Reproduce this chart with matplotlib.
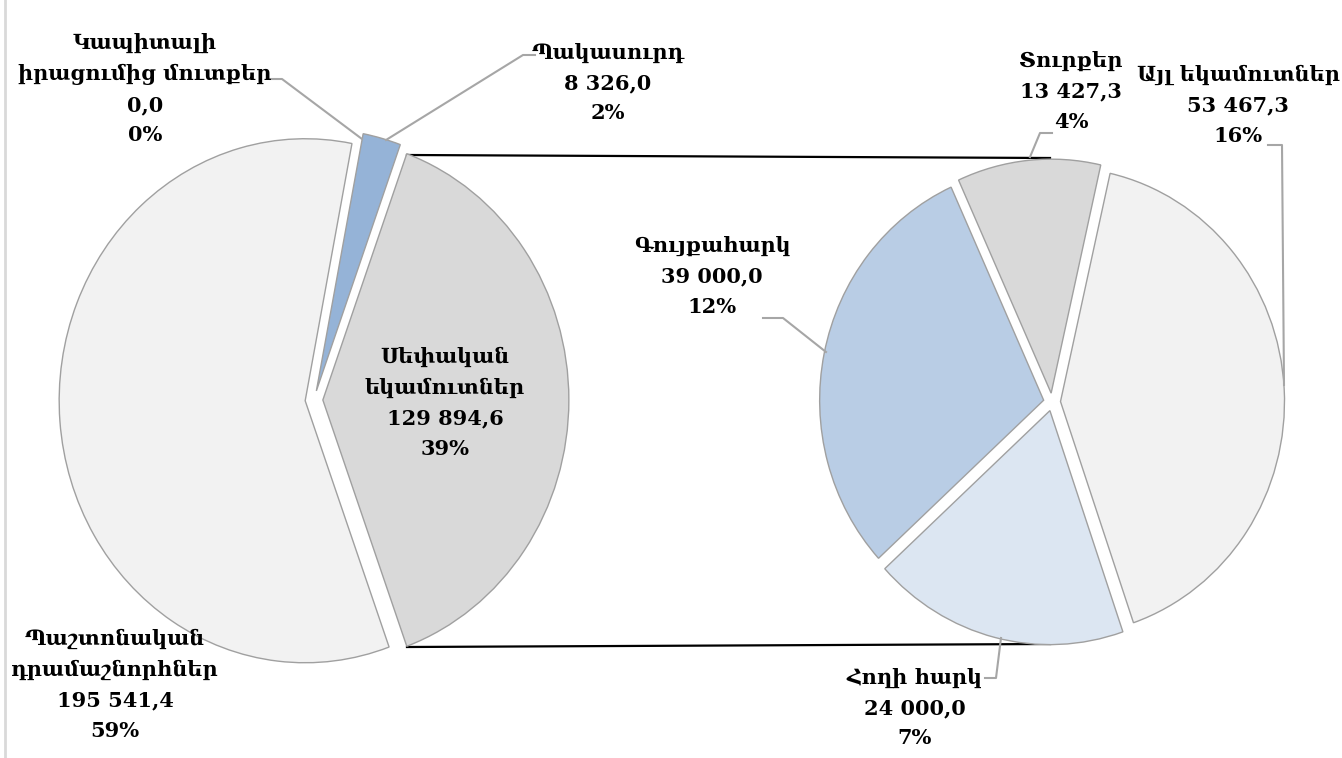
import matplotlib
matplotlib.use("Agg")
import matplotlib.pyplot as plt

# ---------------- data ----------------
main_labels = ["Սեփական\nեկամուտներ", "Պակասուրդ", "Կապիտալի\nիրացումից մուտքեր", "Պաշտոնական\nդրամաշնորհներ"]
main_values = [129894.6, 8326.0, 0.0, 195541.4]
main_colors = ["#d9d9d9", "#95b3d7", "#95b3d7", "#f2f2f2"]

sub_labels = ["Տուրքեր", "Գույքահարկ", "Հողի հարկ", "Այլ եկամուտներ"]
sub_values = [13427.3, 39000.0, 24000.0, 53467.3]
sub_colors = ["#d9d9d9", "#b9cde5", "#dce6f2", "#f2f2f2"]

total = sum(main_values)

plt.rcParams['font.family'] = ['DejaVu Serif', 'DejaVu Sans']

W, H = 1342, 758
fig = plt.figure(figsize=(W / 100, H / 100), dpi=100)

# background overlay (connector lines)
bg = fig.add_axes([0, 0, 1, 1], zorder=0)
bg.set_xlim(0, W); bg.set_ylim(H, 0); bg.axis('off')

def pie_axes(cx, cy, rx, ry, lim=1.2):
    w = 2 * lim * rx
    h = 2 * lim * ry
    ax = fig.add_axes([(cx - w / 2) / W, (H - cy - h / 2) / H, w / W, h / H], zorder=2)
    ax.patch.set_visible(False)
    return ax, lim

edge = dict(edgecolor="#a0a0a0", linewidth=1.0)

# left (main) pie
axL, lim = pie_axes(314, 400, 246, 262)
start_main = -main_values[0] / total * 360 / 2
wl, _ = axL.pie(main_values, colors=main_colors, startangle=start_main,
                explode=[0.036] * 4, wedgeprops=edge, radius=1.0)
wl[2].set_visible(False)
axL.set_aspect('auto'); axL.set_xlim(-lim, lim); axL.set_ylim(-lim, lim); axL.axis('off')

# right (secondary) pie
axR, lim = pie_axes(1052, 402, 224, 234)
wr, _ = axR.pie(sub_values, colors=sub_colors, startangle=77.2,
                explode=[0.038] * 4, wedgeprops=edge, radius=1.0)
axR.set_aspect('auto'); axR.set_xlim(-lim, lim); axR.set_ylim(-lim, lim); axR.axis('off')

# connector lines
bg.plot([407, 1050], [155, 158], color="black", lw=1.6)
bg.plot([407, 1050], [647, 644], color="black", lw=1.6)
bg.plot([5, 5], [0, H], color="#d9d9d9", lw=2)

# top overlay for labels
ov = fig.add_axes([0, 0, 1, 1], zorder=5)
ov.set_xlim(0, W); ov.set_ylim(H, 0); ov.axis('off'); ov.patch.set_visible(False)

def fmt(v):
    return f"{v:,.1f}".replace(",", " ").replace(".", ",")

def pct(v):
    return f"{round(v / total * 100):.0f}%"

FS = 15
LS = 1.65
def lab(x, y, name, v):
    ov.text(x, y, f"{name}\n{fmt(v)}\n{pct(v)}", ha='center', va='center',
            fontsize=FS, fontweight='bold', linespacing=LS, color='black')

lab(445, 403, main_labels[0], main_values[0])
lab(608, 83, main_labels[1], main_values[1])
lab(145, 89, main_labels[2], main_values[2])
lab(115, 685, main_labels[3], main_values[3])

lab(1071, 91, sub_labels[0], sub_values[0])
lab(712, 276, sub_labels[1], sub_values[1])
lab(915, 708, sub_labels[2], sub_values[2])
lab(1238, 105, sub_labels[3], sub_values[3])

lc = dict(color="#a6a6a6", lw=1.5)
ov.plot([270, 282, 362], [79, 79, 139], **lc)
ov.plot([535, 523, 386], [55, 55, 140], **lc)
ov.plot([1052, 1040, 1030], [133, 133, 157], **lc)
ov.plot([1268, 1282, 1284], [145, 145, 385], **lc)
ov.plot([763, 783, 826], [318, 318, 352], **lc)
ov.plot([985, 996, 1001], [678, 678, 638], **lc)

fig.savefig("out.png", dpi=100, facecolor="white")
